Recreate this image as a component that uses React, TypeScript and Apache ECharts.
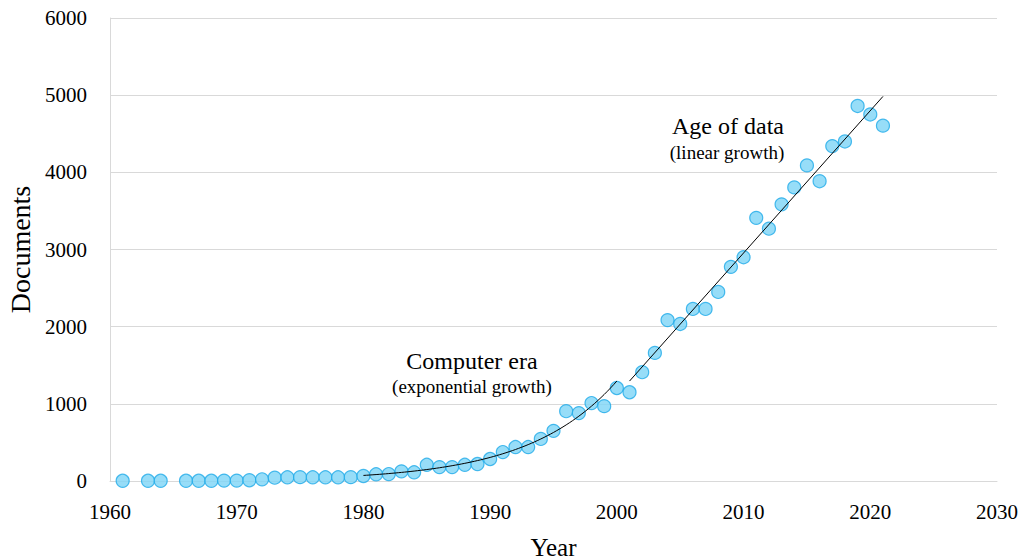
import React, { useEffect, useRef } from "react";
import * as echarts from "echarts";

// Publication years (1962 and 1965 have no records)
const years: number[] = [
  1961, 1963, 1964, 1966, 1967, 1968, 1969, 1970, 1971, 1972, 1973, 1974, 1975,
  1976, 1977, 1978, 1979, 1980, 1981, 1982, 1983, 1984, 1985, 1986, 1987, 1988,
  1989, 1990, 1991, 1992, 1993, 1994, 1995, 1996, 1997, 1998, 1999, 2000, 2001,
  2002, 2003, 2004, 2005, 2006, 2007, 2008, 2009, 2010, 2011, 2012, 2013, 2014,
  2015, 2016, 2017, 2018, 2019, 2020, 2021,
];

// Documents published per year
const documents: number[] = [
  3, 3, 3, 3, 3, 3, 5, 5, 10, 22, 43, 48, 50,
  48, 48, 48, 50, 65, 87, 90, 125, 113, 210, 180, 180, 210,
  220, 285, 375, 440, 440, 545, 650, 905, 880, 1010, 970, 1205, 1150,
  1410, 1660, 2085, 2035, 2230, 2230, 2450, 2775, 2900, 3410, 3270, 3585, 3805,
  4090, 3885, 4340, 4400, 4860, 4750, 4605,
];

// Fitting windows for the two trend lines
const exponentialSpan: [number, number] = [1980, 2000];
const linearSpan: [number, number] = [2001, 2021];

const FONT = "'Liberation Serif', 'Times New Roman', serif";

function pointsIn(span: [number, number]): [number, number][] {
  return years
    .map((y, i) => [y, documents[i]] as [number, number])
    .filter(([y]) => y >= span[0] && y <= span[1]);
}

// Ordinary least squares fit y = a + b x
function leastSquares(pts: [number, number][]): { a: number; b: number } {
  const n = pts.length;
  const mx = pts.reduce((s, p) => s + p[0], 0) / n;
  const my = pts.reduce((s, p) => s + p[1], 0) / n;
  let sxy = 0;
  let sxx = 0;
  for (const [x, y] of pts) {
    sxy += (x - mx) * (y - my);
    sxx += (x - mx) * (x - mx);
  }
  const b = sxy / sxx;
  return { a: my - b * mx, b };
}

function exponentialTrend(): [number, number][] {
  const pts = pointsIn(exponentialSpan).map(
    ([x, y]) => [x - exponentialSpan[0], Math.log(y)] as [number, number]
  );
  const { a, b } = leastSquares(pts);
  const out: [number, number][] = [];
  for (let x = exponentialSpan[0]; x <= exponentialSpan[1] + 1e-9; x += 0.25) {
    out.push([x, Math.exp(a + b * (x - exponentialSpan[0]))]);
  }
  return out;
}

function linearTrend(): [number, number][] {
  const { a, b } = leastSquares(pointsIn(linearSpan));
  return [
    [linearSpan[0], a + b * linearSpan[0]],
    [linearSpan[1], a + b * linearSpan[1]],
  ];
}

const plain = (v: number) => String(v);

export default function App() {
  const ref = useRef<HTMLDivElement>(null);

  useEffect(() => {
    if (!ref.current) return;
    const chart = echarts.init(ref.current, undefined, { renderer: "svg" });
    const gridColor = "#d9d9d9";

    chart.setOption({
      animation: false,
      backgroundColor: "#ffffff",
      grid: {
        left: 110,
        right: 33,
        top: 18,
        bottom: 79,
        containLabel: false,
        outerBoundsMode: "none",
      },
      textStyle: { fontFamily: FONT },
      xAxis: {
        type: "value",
        min: 1960,
        max: 2030,
        interval: 10,
        name: "Year",
        nameLocation: "middle",
        nameGap: 54,
        nameTextStyle: { fontFamily: FONT, fontSize: 25, color: "#000" },
        axisLine: { show: true, lineStyle: { color: gridColor, width: 1 } },
        axisTick: { show: false },
        splitLine: { show: false },
        axisLabel: {
          fontFamily: FONT,
          fontSize: 21,
          color: "#000",
          margin: 20,
          formatter: plain,
        },
      },
      yAxis: {
        type: "value",
        min: 0,
        max: 6000,
        interval: 1000,
        name: "Documents",
        nameLocation: "middle",
        nameGap: 72,
        nameTextStyle: { fontFamily: FONT, fontSize: 28, color: "#000" },
        axisLine: { show: true, lineStyle: { color: gridColor, width: 1 } },
        axisTick: { show: false },
        splitLine: { show: true, lineStyle: { color: gridColor, width: 1 } },
        axisLabel: {
          fontFamily: FONT,
          fontSize: 21,
          color: "#000",
          margin: 23,
          formatter: plain,
        },
      },
      graphic: [
        {
          type: "text",
          x: 472,
          y: 361,
          style: {
            text: "Computer era",
            fontFamily: FONT,
            fontSize: 24,
            fill: "#000",
            align: "center",
            verticalAlign: "middle",
          },
        },
        {
          type: "text",
          x: 472,
          y: 386,
          style: {
            text: "(exponential growth)",
            fontFamily: FONT,
            fontSize: 19,
            fill: "#000",
            align: "center",
            verticalAlign: "middle",
          },
        },
        {
          type: "text",
          x: 728,
          y: 126,
          style: {
            text: "Age of data",
            fontFamily: FONT,
            fontSize: 24,
            fill: "#000",
            align: "center",
            verticalAlign: "middle",
          },
        },
        {
          type: "text",
          x: 727,
          y: 152,
          style: {
            text: "(linear growth)",
            fontFamily: FONT,
            fontSize: 19,
            fill: "#000",
            align: "center",
            verticalAlign: "middle",
          },
        },
      ],
      series: [
        {
          type: "scatter",
          name: "Documents",
          data: years.map((y, i) => [y, documents[i]]),
          symbol: "circle",
          symbolSize: 13,
          clip: false,
          itemStyle: {
            color: "#7dd5f6",
            borderColor: "#1eaae9",
            borderWidth: 1.2,
          },
          z: 2,
        },
        {
          type: "line",
          name: "Exponential trend",
          data: exponentialTrend(),
          showSymbol: false,
          symbol: "none",
          lineStyle: { color: "#000", width: 1 },
          z: 3,
        },
        {
          type: "line",
          name: "Linear trend",
          data: linearTrend(),
          showSymbol: false,
          symbol: "none",
          lineStyle: { color: "#000", width: 1 },
          z: 3,
        },
      ],
    });

    return () => chart.dispose();
  }, []);

  return (
    <div
      ref={ref}
      style={{ position: "fixed", left: 0, top: 0, width: 1030, height: 560 }}
    />
  );
}
